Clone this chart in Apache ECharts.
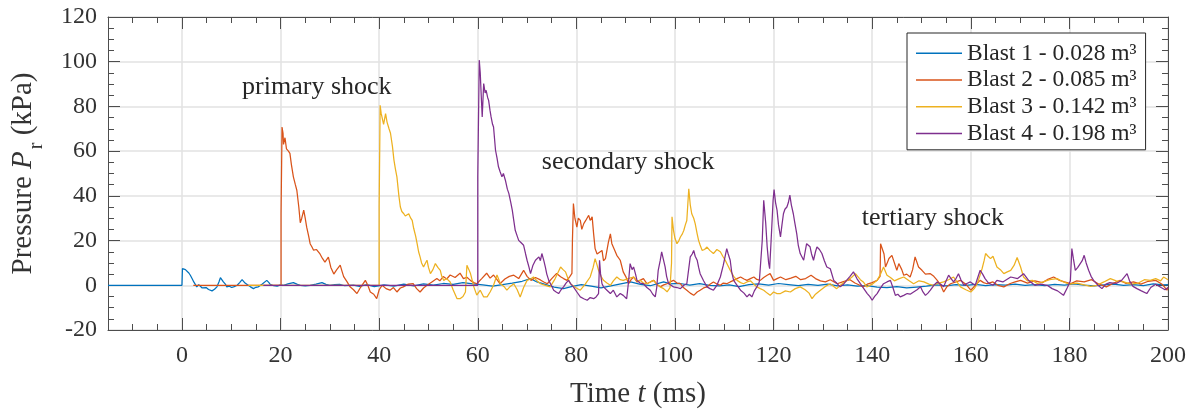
<!DOCTYPE html>
<html>
<head>
<meta charset="utf-8">
<script src="https://cdn.jsdelivr.net/npm/echarts@6/dist/echarts.min.js"></script>
<style>
  html, body { margin: 0; padding: 0; background: #fff; }
  #chart { width: 1197px; height: 412px; }
</style>
</head>
<body>
<div id="chart"></div>
<script>
// pressure traces, [time ms, pressure kPa]
const blast1 = [
  [-15,0],[0,0],[0.1,7.5],[0.4,7.9],[0.7,7],[1,6.7],[1.4,5.5],[1.7,4.5],[2.1,2.8],[2.4,1.5],[3,-0.7],[3.4,0.3],[3.7,0],
  [4.1,-1.2],[4.4,-1.5],[4.9,-1],[5.4,-1.9],[5.8,-1.6],[6.1,-2.5],[6.6,-1.8],[7.1,-0.7],[7.5,1.5],[7.8,3.4],[8.1,2.6],
  [8.4,1.5],[8.8,0.5],[9.1,-0.7],[9.6,-0.4],[10.1,-1],[10.6,-0.6],[11.2,0],[11.7,1.2],[12.2,2.5],[12.5,1.9],[12.8,1],
  [13.3,0.2],[13.9,-0.7],[14.5,-1.5],[15,-0.9],[15.5,-0.7],[16.3,0.6],[17.2,2.2],[17.6,1.3],[17.9,0.4],[18.6,-0.2],
  [19.3,-0.4],[20,0.2],[20.6,0],[21.5,0.6],[22.6,1.2],[23.3,0.5],[24,0],[25,-0.3],[26,0],[27.2,0.5],[28.4,1.2],[29.2,0.4],
  [30,0],[31,0.3],[32,0.4],[33,-0.2],[34.8,0.1],[36,-0.5],[37.5,0.3],[39,-0.6],[41,0.2],[43,-0.4],[45,0.5],[47,-0.3],
  [49,0.6],[51,0.1],[53,0.8],[55,0.4],[57,1.2],[59,0.6],[61,0.2],[63,-0.4],[65,0.3],[67,1],[69,1.8],[70.7,3],[72,1.5],
  [74,0.2],[75.5,-0.8],[77.4,-1.5],[79,-0.6],[81,0.3],[83,-0.4],[85,-1.2],[87,-0.3],[89,0.6],[91,1.5],[93,0.4],[95,-0.2],
  [97.7,1.5],[99,0.6],[101,0.8],[103,0.1],[105,0.7],[107,0],[109,-0.3],[111,0.2],[113,-0.6],[115,0.3],[117,0.6],[119,0.1],
  [121,0.8],[123,0.3],[125,-0.2],[127,0.4],[129,0],[131,0.5],[133,-0.3],[135,0.2],[137,-0.4],[139,-0.2],[141,-0.8],
  [143,-1],[145,-0.6],[147,-1.2],[149,-0.8],[151,-0.4],[153,0.2],[155,-0.3],[157,0.3],[159,0],[161,0.4],[163,-0.2],
  [165,0.3],[167,0.1],[169,0.5],[171,0],[173,0.3],[175,-0.2],[177,0.4],[179,0.1],[181,0.6],[183,0.1],[185,-0.3],[187,0.2],
  [189,0.5],[191,0],[193,0.3],[195,-0.2],[197,0.6],[199,0.2],[200,0.3]
];

const blast2 = [
  [2.3,0],[20.1,0],[20.1,32],[20.2,32],[20.3,70.8],[20.5,68],[20.6,63],[20.9,66],[21.2,61],[21.6,60],[21.9,59],[22.2,54],
  [22.6,48.5],[23,45],[23.3,42.5],[23.7,35],[24,28],[24.3,30],[24.7,33.6],[25,30],[25.3,26],[25.7,22],[26,18.6],[26.4,17],
  [26.7,15.7],[27.3,16],[28,14],[28.5,12],[29,10.4],[29.4,11],[29.7,12.6],[30.2,8],[30.8,5],[31.4,7],[32.1,9],[32.5,6],
  [32.8,3.9],[33.5,1.5],[34.1,-0.7],[34.8,-2],[35.5,-3.7],[36.2,-1],[37.2,2.2],[37.7,0],[38.2,-3],[38.9,-4],[39.5,-6],
  [40,-2],[40.6,0],[41.4,-1.5],[42.2,-2.2],[42.9,-1],[43.6,-3],[44.3,-1.2],[44.9,-0.7],[45.9,0.5],[46.9,0.7],[47.6,-1.5],
  [48.3,-3],[49,-1.2],[49.7,0],[50.7,1.5],[51.7,3],[52.3,2],[53,3.9],[53.7,2.8],[54.4,4.6],[55.4,3.5],[56.4,5.4],[57.1,3],
  [57.8,3.6],[58.5,2.2],[59.2,1.2],[59.8,0.7],[60.8,3],[61.8,5.4],[62.5,3.2],[63.2,4.6],[63.9,2.5],[64.5,0.7],[65.5,2.8],
  [66.4,4],[67.3,4.5],[68.3,3],[69.3,6.7],[70,4],[70.8,2.2],[71.7,3.5],[72.7,2.4],[73.4,1.5],[74.1,0.7],[75,3],[76,5.3],
  [76.8,3.8],[77.4,3],[78.1,2.2],[78.7,4],[79.1,5.3],[79.2,20],[79.4,36.6],[79.7,30],[80.1,26],[80.4,30],[80.8,29],
  [81.1,25],[81.5,27.6],[81.9,29],[82.5,31.3],[82.8,29],[83.2,30.6],[83.5,23],[83.8,16.4],[84.2,14],[84.5,14.2],[85.2,15.6],
  [85.5,11],[85.9,11.9],[86.5,19.3],[86.9,23],[87.2,18.6],[87.5,18.6],[87.9,15],[88.2,13.4],[88.9,11.2],[89.5,6],[90,4],
  [90.6,0.7],[91.1,2.5],[91.6,3.7],[92.3,1.5],[92.9,2.2],[93.6,3],[94.3,0.7],[95,1.5],[95.7,2.2],[96.3,0.5],[97,-0.7],
  [97.7,0.2],[98.4,0.7],[99,1.5],[99.7,2.2],[100.4,1],[101.1,0.7],[101.7,-1],[102.4,-2.2],[103.1,-3.5],[103.8,-4.5],
  [104.5,-3],[105.1,-2.2],[105.8,-1.2],[106.5,-0.7],[107.1,0.5],[107.8,1.5],[108.5,0.6],[109.2,0],[109.8,1],[110.5,0.7],
  [111.2,1.5],[111.9,2.2],[112.6,3],[113.3,3.7],[114,2.8],[114.6,2.2],[115.3,3],[116,3.7],[116.6,2.6],[117.3,2.2],[118,3.5],
  [118.7,4.5],[119.3,5.2],[120,2.2],[120.7,3],[121.4,3.7],[122.5,2.5],[123.5,3.2],[124.5,4],[125.5,2.5],[126.5,3],
  [127.6,4.5],[128.5,3],[129.5,2],[130.5,1.5],[131.5,2.5],[132.9,0.7],[134,1.5],[135.5,2.5],[136.5,1],[137.5,0],
  [138.2,-0.7],[139,0.5],[140,1.2],[141,2.2],[141.6,4],[141.7,18.6],[142,19.4],[142.4,14],[142.7,8.2],[143,9.7],[143.4,12],
  [143.7,11.9],[144,13.4],[144.3,12.7],[145,6.7],[145.4,9.7],[146,7],[146.4,4.5],[147,5],[147.7,3.7],[148.2,7],[148.7,12.7],
  [149,12.7],[149.4,8.2],[150.1,6.7],[150.8,5],[151.8,5.2],[152.5,4],[153.2,2.2],[153.9,0],[154.5,-3],[155.2,-0.5],
  [155.9,0.7],[157,1.5],[157.9,2.2],[159,0.5],[160,-2.2],[161,0.2],[161.9,2.2],[162.6,1.2],[163.3,0.7],[164.5,1.5],
  [165.5,0],[166.7,-0.7],[168,0.8],[169,1.5],[170.1,2.2],[171.5,1],[173,2],[174.5,1.2],[175.5,2.5],[176.8,3.7],[178,2.2],
  [179,1.5],[180.2,0.7],[181.5,2],[183,1.5],[184.5,2.5],[186,0.5],[187.5,-0.7],[189,1],[190.3,2.2],[191.5,0.8],[193,1.5],
  [194.5,0.5],[196,1.8],[197.5,2.2],[198.8,0.5],[199.8,-2.2],[200,-1]
];

const blast3 = [
  [13.5,0],[40,0],[40,35],[40.1,35.5],[40.2,80.5],[40.4,77],[40.6,75],[40.9,72],[41.3,76.8],[41.6,73],[42,70],[42.3,68],
  [42.7,62],[43,56],[43.3,52],[43.6,48.5],[44,40],[44.3,35],[44.6,33],[45,32],[45.3,31],[45.6,30.6],[46,32],[46.4,30],
  [46.7,29],[47,25.5],[47.4,22],[47.7,18.6],[48,15],[48.3,12.7],[48.6,10],[49,8.2],[49.4,10],[49.7,11.2],[50,8],[50.4,5.2],
  [50.9,7],[51.4,9.7],[51.9,8],[52.4,6.7],[52.7,4],[53.1,2.2],[53.7,3],[54.4,1.5],[55,-2],[55.8,-6],[56.4,-6],[57,-5],
  [57.5,-3],[57.8,9],[58.2,7],[58.5,5.4],[58.9,2],[59.2,-0.7],[59.8,-4.4],[60.5,-2.2],[61.2,-5.2],[61.9,-5.2],[62.5,-3],
  [63.2,0],[63.9,4.6],[64.6,0.7],[65.3,-0.5],[65.9,-2.2],[66.6,-0.5],[67.3,0.7],[68,-2],[68.6,-5.2],[69.3,-1],[70,2.2],
  [70.7,2.8],[71.3,3.7],[72,2],[72.7,0.7],[73.7,0],[74.7,-0.7],[75.7,3],[76.8,8.2],[77.3,7],[77.8,6],[78.3,3],[78.8,0.7],
  [79.8,-1],[80.8,-2.2],[81.8,0.5],[82.8,3.7],[83.4,8],[83.8,11.9],[84.2,9],[84.5,6.7],[85,4],[85.5,2.2],[86.2,1],[86.9,0],
  [87.5,2],[88.2,3.7],[88.9,2.5],[89.5,2.2],[90.5,3],[91.6,3.7],[92.3,2],[92.9,2.2],[93.6,1],[94.3,0.7],[95,1.5],[95.7,2.2],
  [96.3,0.5],[97,-0.7],[97.7,-1.5],[98.4,-2.9],[99,-1],[99.3,10],[99.4,30.6],[99.7,24.6],[100,21],[100.4,18.6],[100.8,20],
  [101.1,21.6],[101.5,23],[101.8,24.6],[102.1,27],[102.4,29],[102.8,43.2],[103.1,36],[103.4,32],[103.8,30],[104.1,27.6],
  [104.5,23],[104.8,20],[105.1,18],[105.5,15.6],[106,16],[106.5,17.1],[107.1,15.5],[107.8,14.2],[108.5,16],[109.2,15],
  [109.7,13],[110.2,11.2],[110.7,9],[111.2,6.7],[111.9,4],[112.6,2.2],[113.3,1.2],[113.9,0.7],[114.6,1.5],[115.3,2],
  [116,0.5],[116.6,-0.7],[117.3,-1.5],[118,-2.2],[118.7,-3.5],[119.3,-4.5],[120,-3],[120.7,-3.7],[121.4,-3.7],[122.4,-2.5],
  [123.4,-3],[124.4,-1.5],[125.4,-0.7],[126.4,-2],[127.2,-3.5],[127.8,-6],[128.5,-4],[129.5,-2.2],[130.5,-0.5],[131.5,0.7],
  [132.2,-0.5],[132.8,-1.5],[133.8,0.5],[134.9,2.2],[135.8,3.5],[136.6,5.2],[137.6,2.5],[138.2,1.5],[138.9,-0.7],[140,0.5],
  [141,2.2],[141.7,5],[142.3,8.2],[143,4.5],[143.7,3.5],[144.5,2],[145.5,3],[146.4,3.7],[147.5,2],[148.4,0.7],[149.5,2],
  [150.5,1.5],[151.5,0.5],[152.5,0],[153.5,1],[154.5,1.5],[155.5,2.5],[156.5,3.7],[157.2,1.5],[157.9,-0.7],[159,-2],
  [160,-3],[160.7,-1.5],[161.3,0.7],[161.8,4],[162.3,7.5],[162.7,11],[163,14.2],[163.5,13],[164,11.9],[164.5,13],[165.3,8.2],
  [166,7],[166.7,5.2],[167.4,6],[168.1,6.7],[168.8,9],[169.4,12.4],[170.1,8.2],[170.7,3.7],[171.5,2],[172.5,2.2],[173.5,0.8],
  [174.7,1.5],[176,2.5],[177.5,3],[178.8,1.5],[180,0.5],[181.5,1],[183,0.2],[184.3,-0.5],[185.6,0],[187,1.5],[188.3,3],
  [189.5,2],[191,1.5],[192.5,0.5],[194,1],[195.2,2.5],[196.4,2.2],[197.5,3],[198.5,2],[199.1,3.7],[200,2.5]
];

const blast4 = [
  [16.5,0],[60,0],[60,48.5],[60.1,49],[60.3,100.7],[60.5,95],[60.7,85],[60.9,75.3],[61.2,90.2],[61.5,86],[61.7,87.2],
  [62,84],[62.2,82.7],[62.5,78],[62.7,75.3],[63,72],[63.2,70.8],[63.6,60.4],[63.9,57],[64.2,53],[64.5,51],[64.9,48.5],
  [65.2,50],[65.6,47],[66,43],[66.3,41.1],[66.7,37],[67,33.6],[67.3,29],[67.6,24.6],[68,22],[68.3,20.1],[68.8,19],
  [69.3,17.9],[69.7,14],[70,11.2],[70.4,8],[70.7,5.2],[71.2,9],[71.7,11.2],[72.1,12],[72.4,12.7],[72.7,11],[73,14.2],
  [73.4,11],[73.7,8.2],[74,5],[74.4,2.2],[74.9,0],[75.4,-2.2],[75.9,-3],[76.4,-3.7],[76.9,-2],[77.4,-0.7],[77.9,1],
  [78.4,2.2],[78.9,0.5],[79.4,-0.7],[80.1,-3],[80.8,-5.2],[81.5,-6],[82.2,-6.7],[82.8,-5.5],[83.5,-6],[84,-5.2],[84.5,-3.7],
  [84.7,11.2],[84.9,5.2],[85.2,0.7],[85.5,-0.7],[86.2,-2.2],[86.9,-3.7],[87.5,-2.2],[88.2,-5.2],[88.9,-3.7],[89.5,-4.5],
  [90.2,-6],[90.6,2],[90.9,9.7],[91.3,7],[91.6,8.2],[92,5],[92.3,2.2],[92.9,1],[93.6,0.7],[94.3,-1],[95,-2.2],[95.5,-4],
  [96,-5.2],[96.3,-1],[96.6,6.7],[97,11],[97.3,14.9],[97.6,12],[98,8.2],[98.3,4],[98.7,0.7],[99.2,0],[99.7,-0.7],
  [100.4,-1],[101.1,-1.5],[101.8,0],[102.4,0.7],[103.1,12.7],[103.5,14],[103.8,15.6],[104.1,13],[104.5,11.2],[104.8,8],
  [105.1,5.2],[105.8,2],[106.5,-0.7],[107.1,-1.5],[107.8,-2.2],[108.5,0],[109.2,3.7],[109.8,9],[110.5,16.4],[110.8,14],
  [111.2,11.2],[111.5,6],[111.9,2.2],[112.6,0],[113.3,-2.2],[114,-3.5],[114.6,-5.2],[115.1,-4],[115.6,-5.2],[116.1,-2.5],
  [116.6,-0.7],[117.1,1.5],[117.4,2.2],[117.7,20],[118,38],[118.4,28],[118.7,17.2],[119,10],[119.2,7.4],[119.5,20],
  [119.7,29],[119.9,38],[120.1,42.8],[120.4,37],[120.7,33.6],[121,27],[121.4,21.6],[121.7,27],[122,32],[122.3,34],
  [122.7,35],[123,37],[123.3,40.3],[123.6,36],[124,32],[124.3,28],[124.7,23],[125,18],[125.4,14.2],[126.1,11.2],[126.4,15],
  [126.7,18.6],[127,18],[127.4,17.2],[127.7,14],[128.1,11.2],[128.5,15],[128.8,17.2],[129.3,16],[129.8,14.2],[130.3,11],
  [130.8,8.2],[131.5,7.4],[132.2,2.2],[132.8,1],[133.5,-0.7],[134.2,0.5],[134.8,2.2],[135.5,4],[136.2,6],[136.9,3],
  [137.6,0.7],[138.3,-1.5],[139,-3.7],[139.5,-5],[140,-6.7],[140.5,-5],[141,-3.7],[141.6,-1.5],[142.3,0.7],[143,1.5],
  [143.7,2.2],[144.2,-1],[144.7,-4.5],[145.2,-4],[145.7,-5.2],[146.4,-4.5],[147.1,-3.7],[147.7,-4],[148.4,-3],[149.1,-2],
  [149.8,-0.7],[150.3,-3],[150.8,-4.5],[151.3,-3.5],[151.8,-2.2],[152.5,0],[153.2,1.5],[153.9,0.5],[154.5,-0.7],[155,2],
  [155.5,4.5],[156,3],[156.5,1.5],[157,3],[157.5,5.2],[158,2.5],[158.6,0],[159.2,0.8],[159.9,1.5],[160.9,0],[161.9,6.7],
  [162.4,5],[162.9,3],[163.6,1],[164.5,0],[165.3,2.2],[166.5,1.5],[168.1,3.7],[169.5,3],[170.7,5.2],[171.8,2],[173,0],
  [174.2,0.5],[175.5,0],[176.5,-1.5],[177.6,-2.5],[178.8,-4.5],[179.6,-1],[180.2,2],[180.5,16.4],[180.8,12],[181.2,6.7],
  [181.7,8],[182.2,9.7],[182.6,11],[183,13.4],[183.4,10],[183.9,6.7],[184.4,4],[184.9,2.2],[185.8,0],[186.6,-1.5],
  [187.4,0.5],[188.2,1.2],[189.5,0.8],[190.5,2],[191.7,5.2],[192.2,2],[192.9,-0.5],[193.7,-1.5],[194.6,-2.5],[195.7,-3.7],
  [196.5,-1],[197.5,0.5],[198.6,-1],[199.4,-2],[200,-1]
];

const seriesNames = [
  'Blast 1 - 0.028 m\u00b3',
  'Blast 2 - 0.085 m\u00b3',
  'Blast 3 - 0.142 m\u00b3',
  'Blast 4 - 0.198 m\u00b3'
];
const seriesColors = ['#0072BD', '#D95319', '#EDB120', '#7E2F8E'];
const xMajorTicks = [0, 20, 40, 60, 80, 100, 120, 140, 160, 180, 200];

// [text, time ms, pressure kPa] of each label's left-middle point
const annotations = [
  ['primary shock', 12.2, 88.6],
  ['secondary shock', 73.0, 55.0],
  ['tertiary shock', 137.9, 30.2]
];

const FONT = '"Liberation Serif", "Times New Roman", "DejaVu Serif", serif';
const AXIS_COLOR = '#4d4d4d';
const TEXT_COLOR = '#333333';
const GRID_COLOR = '#e2e2e2';

function xAxisDef(position, major) {
  return {
    type: 'value',
    position,
    min: -15,
    max: 200,
    interval: 5,
    axisLine: { show: major, onZero: false, lineStyle: { color: AXIS_COLOR, width: 1 } },
    axisTick: major
      ? { show: true, inside: true, length: 12, customValues: xMajorTicks, lineStyle: { color: AXIS_COLOR } }
      : { show: true, inside: true, length: 6, lineStyle: { color: AXIS_COLOR } },
    axisLabel: { show: false },
    splitLine: { show: false },
  };
}

function yAxisDef(position) {
  return {
    type: 'value',
    position,
    min: -20,
    max: 120,
    interval: 20,
    axisLine: { show: true, onZero: false, lineStyle: { color: AXIS_COLOR, width: 1 } },
    axisTick: { show: true, inside: true, length: 12, lineStyle: { color: AXIS_COLOR } },
    minorTick: { show: true, splitNumber: 4, length: 6, lineStyle: { color: AXIS_COLOR } },
    axisLabel: { show: false },
    splitLine: { show: false },
  };
}

const xMain = xAxisDef('bottom', true);
xMain.axisLabel = {
  show: true, customValues: xMajorTicks, margin: 14,
  fontFamily: FONT, fontSize: 24, color: TEXT_COLOR,
};
xMain.splitLine = { show: true, lineStyle: { color: GRID_COLOR, width: 1.5 } };
xMain.name = '{a|Time }{i|t}{a| (ms)}';
xMain.nameLocation = 'middle';
xMain.nameGap = 50;
xMain.nameTextStyle = {
  fontFamily: FONT, fontSize: 29, color: TEXT_COLOR,
  rich: {
    a: { fontFamily: FONT, fontSize: 29, color: TEXT_COLOR },
    i: { fontFamily: FONT, fontSize: 29, color: TEXT_COLOR, fontStyle: 'italic' },
  },
};

// subscript r: taller padded token, bottom aligned, so it sits below the baseline
const yMain = yAxisDef('left');
yMain.axisLabel = { show: true, margin: 11, fontFamily: FONT, fontSize: 24, color: TEXT_COLOR };
yMain.splitLine = { show: true, lineStyle: { color: GRID_COLOR, width: 1.5 } };
yMain.name = '{a|Pressure }{i|P}{s|r}{a| (kPa)}';
yMain.nameLocation = 'middle';
yMain.nameRotate = 90;
yMain.nameGap = 61;
yMain.nameTextStyle = {
  fontFamily: FONT, fontSize: 29, color: TEXT_COLOR,
  rich: {
    a: { fontFamily: FONT, fontSize: 29, color: TEXT_COLOR, verticalAlign: 'top' },
    i: { fontFamily: FONT, fontSize: 29, color: TEXT_COLOR, fontStyle: 'italic', verticalAlign: 'top' },
    s: { fontFamily: FONT, fontSize: 20, color: TEXT_COLOR, verticalAlign: 'bottom', padding: [18, 0, 0, 2] },
  },
};

const traces = [blast1, blast2, blast3, blast4];

const option = {
  animation: false,
  backgroundColor: '#ffffff',
  grid: { left: 108, right: 29, top: 17, bottom: 82, outerBoundsMode: 'none', containLabel: false },
  xAxis: [xMain, xAxisDef('bottom', false), xAxisDef('top', true), xAxisDef('top', false)],
  yAxis: [yMain, yAxisDef('right')],
  legend: {
    left: 907,
    top: 33,
    orient: 'vertical',
    icon: 'rect',
    itemWidth: 46,
    itemHeight: 1.5,
    itemGap: 0,
    padding: [7, 9, 3, 9],
    borderColor: '#262626',
    borderWidth: 1,
    borderRadius: 0,
    backgroundColor: '#ffffff',
    selectedMode: false,
    textStyle: { fontFamily: FONT, fontSize: 23.5, color: '#262626', lineHeight: 26.7 },
    data: seriesNames,
  },
  series: traces.map((data, i) => ({
    name: seriesNames[i],
    type: 'line',
    data,
    xAxisIndex: 0,
    yAxisIndex: 0,
    showSymbol: false,
    symbol: 'none',
    color: seriesColors[i],
    lineStyle: { color: seriesColors[i], width: 1.25 },
    emphasis: { disabled: true },
  })),
};

const chart = echarts.init(document.getElementById('chart'), null, { renderer: 'canvas' });
chart.setOption(option);

chart.setOption({
  graphic: annotations.map(([text, t, p]) => {
    const [x, y] = chart.convertToPixel({ xAxisIndex: 0, yAxisIndex: 0 }, [t, p]);
    return {
      type: 'text',
      x,
      y,
      z: 100,
      style: {
        text,
        fontFamily: FONT,
        fontSize: 26,
        fill: '#262626',
        align: 'left',
        verticalAlign: 'middle',
      },
    };
  }),
});
</script>
</body>
</html>
